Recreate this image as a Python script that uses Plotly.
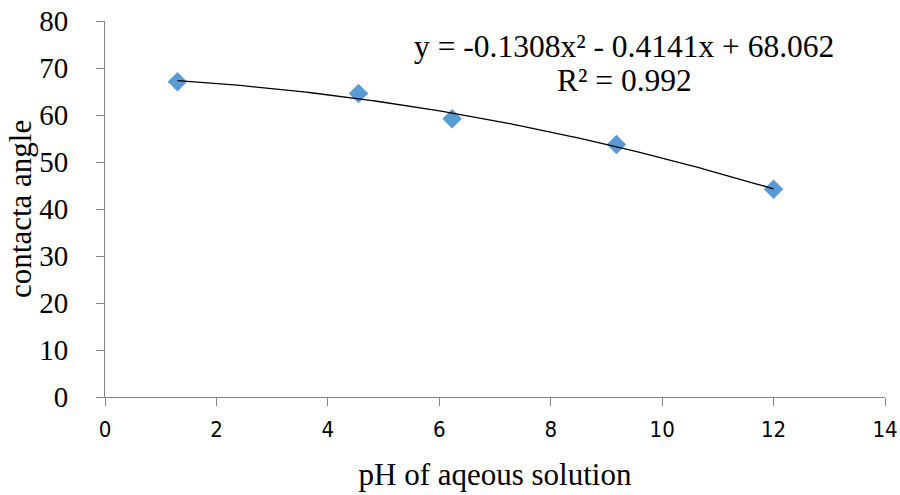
import numpy as np
import plotly.graph_objects as go

# Data
ph_values = [1.3, 4.55, 6.23, 9.18, 12.0]
contact_angles = [67.1, 64.6, 59.2, 53.7, 44.2]

# Trendline coefficients (from the displayed equation)
coef_a = -0.1308
coef_b = -0.4141
coef_c = 68.062
r_squared = "0.992"

x_ticks = [0, 2, 4, 6, 8, 10, 12, 14]
y_ticks = [0, 10, 20, 30, 40, 50, 60, 70, 80]

trend_x = np.linspace(min(ph_values), max(ph_values), 200)
trend_y = coef_a * trend_x**2 + coef_b * trend_x + coef_c

serif = "Liberation Serif, Times New Roman, serif"
narrow = "Liberation Sans Narrow, DejaVu Sans Condensed, Arial Narrow, Roboto Condensed"

fig = go.Figure()
fig.add_trace(go.Scatter(
    x=ph_values, y=contact_angles, mode="markers",
    marker=dict(symbol="diamond", size=15, color="#5B9BD5", line=dict(width=0)),
    showlegend=False,
))
fig.add_trace(go.Scatter(
    x=trend_x, y=trend_y, mode="lines",
    line=dict(color="black", width=1.3),
    showlegend=False,
))

fig.add_annotation(
    x=0.666, y=0.931, xref="paper", yref="paper",
    text="y = -0.1308x² - 0.4141x + 68.062",
    showarrow=False, xanchor="center", yanchor="middle",
    font=dict(family=serif, size=31.5, color="black"),
)
fig.add_annotation(
    x=0.666, y=0.843, xref="paper", yref="paper",
    text="R² = " + r_squared,
    showarrow=False, xanchor="center", yanchor="middle",
    font=dict(family=serif, size=31.5, color="black"),
)
# y-axis title
fig.add_annotation(
    x=-0.109, y=0.5, xref="paper", yref="paper",
    text="contacta angle", textangle=-90,
    showarrow=False, xanchor="center", yanchor="middle",
    font=dict(family=serif, size=31, color="black"),
)

fig.update_layout(
    template="none",
    width=900, height=495,
    margin=dict(l=105, r=15, t=21, b=98),
    plot_bgcolor="white", paper_bgcolor="white",
    xaxis=dict(
        range=[0, 14], tickvals=x_ticks, showgrid=False, zeroline=False, automargin=False,
        showline=True, linecolor="#868686", linewidth=1,
        ticks="outside", ticklen=8, tickcolor="#868686", ticklabelstandoff=5,
        tickfont=dict(family=narrow, size=22, color="black"),
        title=dict(text="pH of aqeous solution", font=dict(family=serif, size=31, color="black"), standoff=21),
    ),
    yaxis=dict(
        range=[0, 80], tickvals=y_ticks, showgrid=False, zeroline=False, automargin=False,
        showline=True, linecolor="#868686", linewidth=1,
        ticks="outside", ticklen=8, tickcolor="#868686", ticklabelstandoff=22,
        tickfont=dict(family=serif, size=29, color="black"),
    ),
)

fig.write_html("out.html")
